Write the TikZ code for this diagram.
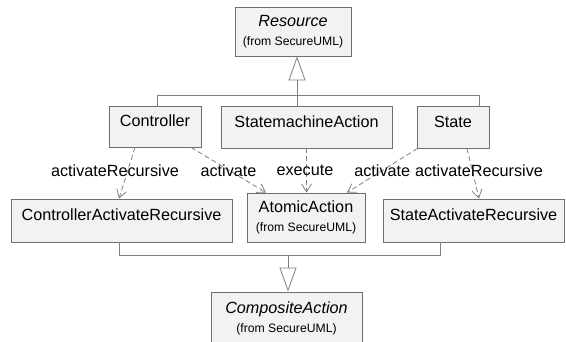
\documentclass[tikz,border=0pt]{standalone}
\usepackage{fontspec}
\setmainfont{Liberation Sans}
\usetikzlibrary{arrows.meta}
\definecolor{boxfill}{HTML}{F2F2F2}
\definecolor{boxline}{HTML}{6E6E6E}
\definecolor{conn}{HTML}{808080}
\newcommand{\bigtext}{\fontsize{16.2}{19.5}\selectfont}
\newcommand{\smalltext}{\fontsize{12.2}{14}\selectfont}
% class name set a little above the middle of its box
\newcommand{\umlname}[1]{\raisebox{5.5pt}[\height][\depth]{#1}}
\begin{document}
\begin{tikzpicture}[x=1pt,y=-1pt,
  cls/.style={draw=boxline, fill=boxfill, line width=0.8pt, inner sep=0pt,
              font=\bigtext, align=center},
  tree/.style={draw=conn, line width=0.8pt},
  gen/.style={tree, -{Triangle[open, length=24pt, width=17pt]}},
  dep/.style={draw=conn, line width=0.8pt, dash pattern=on 5pt off 3pt,
              -{Straight Barb[length=8pt, width=10pt]}},
  lbl/.style={font=\bigtext, inner sep=0pt, text=black}]
\clip (0,0) rectangle (566,341);
\fill[white] (0,0) rectangle (566,341);

% classes
\node[cls, minimum width=116pt, minimum height=49pt] (res) at (293,31.5)
  {\textit{Resource}\\{\smalltext (from SecureUML)}};
\node[cls, minimum width=92pt, minimum height=41pt] (ctrl) at (155,126.5)
  {\umlname{Controller}};
\node[cls, minimum width=171pt, minimum height=42pt] (sma) at (306.5,127)
  {\umlname{StatemachineAction}};
\node[cls, minimum width=72pt, minimum height=42pt] (state) at (453,127)
  {\umlname{State}};
\node[cls, minimum width=221pt, minimum height=43pt] (car) at (121.5,220.5)
  {\umlname{ControllerActivateRecursive}};
\node[cls, minimum width=118pt, minimum height=49pt] (aa) at (306,217.5)
  {AtomicAction\\{\smalltext (from SecureUML)}};
\node[cls, minimum width=181pt, minimum height=43pt] (sar) at (473.5,220.5)
  {\umlname{StateActivateRecursive}};
\node[cls, minimum width=151pt, minimum height=53pt] (comp) at (286.5,318.5)
  {\textit{CompositeAction}\\{\smalltext (from SecureUML)}};

% generalization to Resource
\coordinate (jt) at (297,95);
\coordinate (jtl) at (157,95);
\coordinate (jtr) at (479,95);
\draw[tree] (ctrl.north -| jtl) -- (jtl) -- (jtr) -- (state.north -| jtr);
\draw[tree] (sma.north -| jt) -- (jt);
\draw[gen] (jt) -- (jt |- res.south);

% generalization to CompositeAction
\coordinate (jb) at (288,255);
\coordinate (jbl) at (119,255);
\coordinate (jbr) at (440,255);
\draw[tree] (car.south -| jbl) -- (jbl) -- (jbr) -- (sar.south -| jbr);
\draw[gen] (jb) -- (jb |- comp.north);

% dependencies
\draw[dep] ([xshift=-20pt]ctrl.south) -- node[lbl, xshift=-12pt, yshift=2pt] (l1) {activateRecursive}
  ([xshift=-2.5pt]car.north);
\draw[dep] ([xshift=36pt]ctrl.south) -- node[lbl, yshift=-1pt] (l2) {activate}
  ([xshift=-40pt]aa.north);
\draw[dep] (sma.south) -- node[lbl, xshift=-1.5pt] (l3) {execute}
  (sma.south |- aa.north);
\draw[dep] ([xshift=1pt]state.south west) -- node[lbl] (l4) {activate}
  ([xshift=41pt]aa.north);
\draw[dep] ([xshift=14pt]state.south) -- node[lbl, xshift=6pt, yshift=2.5pt] (l5) {activateRecursive}
  ([xshift=5.5pt]sar.north);
\end{tikzpicture}
\end{document}
